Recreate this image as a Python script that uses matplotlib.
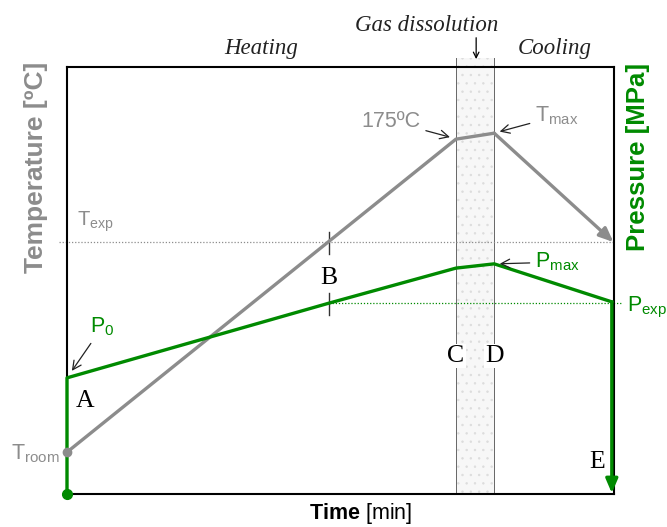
import matplotlib.pyplot as plt
from matplotlib.patches import Rectangle

plt.rcParams['font.family'] = ['Liberation Sans', 'DejaVu Sans']
plt.rcParams['mathtext.fontset'] = 'custom'
plt.rcParams['mathtext.rm'] = 'Liberation Sans'
plt.rcParams['mathtext.it'] = 'Liberation Sans'
plt.rcParams['mathtext.bf'] = 'Liberation Sans:bold'
plt.rcParams['hatch.linewidth'] = 0.5

GRAY = '#8c8c8c'
GREEN = '#008a00'

# schematic data (arbitrary units, 0-100)
t_temp = [0, 71.1, 78.1, 99.9]
temp = [9.8, 83.1, 84.5, 59.0]
t_pres = [0, 0, 47.9, 71.1, 78.1, 99.6, 99.6]
pres = [0, 27.2, 44.7, 52.9, 53.9, 45.0, 0.2]
T_exp = 59.0
P_exp = 44.7
t_B = 47.9
t_C, t_D = 71.1, 78.1

fig = plt.figure(figsize=(6.67, 5.27), dpi=100)
ax = fig.add_axes([67/667, 33/527, 547/667, 427/527])
ax.set_xlim(0, 100)
ax.set_ylim(0, 100)
ax.set_xticks([])
ax.set_yticks([])
for s in ax.spines.values():
    s.set_linewidth(1.5)
    s.set_color('black')

# gas dissolution band
ax.add_patch(Rectangle((t_C, 0), t_D - t_C, 102.1, facecolor='#f7f7f7',
                       edgecolor='#dcdcdc', hatch='..', lw=0, clip_on=False, zorder=0))
for tx in (t_C, t_D):
    ax.plot([tx, tx], [0, 102.1], color='#666666', lw=0.7, clip_on=False, zorder=1)

# reference levels
ax.plot([-1.5, 100], [T_exp, T_exp], color=GRAY, lw=0.9, ls=(0, (1, 1.5)), clip_on=False)
ax.plot([t_B, 101.3], [P_exp, P_exp], color=GREEN, lw=0.9, ls=(0, (1, 1.5)), clip_on=False)
ax.plot([t_B, t_B], [56.2, 61.4], color='#333333', lw=1)
ax.plot([t_B, t_B], [41.9, 47.0], color='#333333', lw=1)

# temperature
ax.plot(t_temp[:-1], temp[:-1], color=GRAY, lw=2.4, solid_capstyle='round', zorder=3)
ax.annotate('', xy=(t_temp[-1], temp[-1]), xytext=(t_temp[-2], temp[-2]),
            arrowprops=dict(arrowstyle='-|>,head_length=0.7,head_width=0.3', color=GRAY,
                            lw=2.4, shrinkA=0, shrinkB=0, mutation_scale=12),
            annotation_clip=False, zorder=3)
ax.plot([0], [temp[0]], 'o', color=GRAY, ms=6, clip_on=False, zorder=4)

# pressure
ax.plot(t_pres[:-1], pres[:-1], color=GREEN, lw=2.4, clip_on=False, zorder=3)
ax.annotate('', xy=(t_pres[-1], pres[-1]), xytext=(t_pres[-2], pres[-2]),
            arrowprops=dict(arrowstyle='-|>,head_length=0.7,head_width=0.3', color=GREEN,
                            lw=2.4, shrinkA=0, shrinkB=0, mutation_scale=12),
            annotation_clip=False, zorder=3)
ax.plot([0], [0], 'o', color=GREEN, ms=7, clip_on=False, zorder=4)

# phase labels
serif = dict(family=['Liberation Serif', 'DejaVu Serif'], style='italic', fontsize=16.5,
             color='#222222')
ax.text(35.5, 104.4, 'Heating', ha='center', va='center', **serif)
ax.text(65.8, 109.8, 'Gas dissolution', ha='center', va='center', **serif)
ax.text(89.2, 104.4, 'Cooling', ha='center', va='center', **serif)
ax.annotate('', xy=(74.8, 101.2), xytext=(74.8, 107.5),
            arrowprops=dict(arrowstyle='->', color='black', lw=0.9), annotation_clip=False)

# point labels
letter = dict(family=['Liberation Serif', 'DejaVu Serif'], fontsize=18.5, color='black',
              ha='center', va='center')
ax.text(3.3, 21.8, 'A', **letter)
ax.text(t_B, 50.7, 'B', **letter)
box = dict(facecolor='white', edgecolor='none', pad=1)
ax.text(t_C, 32.3, 'C', bbox=box, **letter)
ax.text(t_D, 32.3, 'D', bbox=box, **letter)
ax.text(97.0, 7.5, 'E', **letter)

# value labels with arrows
fs = 15.5
arr = dict(arrowstyle='->', color='#222222', lw=0.9)
ax.annotate('175ºC', xy=(70.5, 83.4), xytext=(53.8, 87.3), color=GRAY, fontsize=fs,
            ha='left', va='center', arrowprops=arr)
ax.annotate(r'T$_{\mathrm{max}}$', xy=(78.6, 84.7), xytext=(85.6, 88.5), color=GRAY,
            fontsize=fs, ha='left', va='center', arrowprops=arr)
ax.annotate(r'P$_{\mathrm{max}}$', xy=(78.6, 53.9), xytext=(85.6, 54.3), color=GREEN,
            fontsize=fs, ha='left', va='center', arrowprops=arr)
ax.annotate(r'P$_{0}$', xy=(0.6, 28.3), xytext=(4.2, 39.1), color=GREEN,
            fontsize=fs, ha='left', va='center', arrowprops=arr)
ax.text(1.8, 60.8, r'T$_{\mathrm{exp}}$', color=GRAY, fontsize=14.5, ha='left', va='bottom')
ax.text(102.3, 43.6, r'P$_{\mathrm{exp}}$', color=GREEN, fontsize=fs, ha='left', va='center',
        clip_on=False)
ax.text(-1.3, 9.4, r'T$_{\mathrm{room}}$', color=GRAY, fontsize=fs, ha='right', va='center')

# axis titles
fig.text(36/667, 1 - 167/527, 'Temperature [ºC]', color=GRAY, fontsize=19,
         fontweight='bold', rotation=90, ha='center', va='center')
fig.text(638/667, 1 - 157/527, 'Pressure [MPa]', color=GREEN, fontsize=18.5,
         fontweight='bold', rotation=90, ha='center', va='center')
fig.text(361/667, 1 - 514/527, r'$\mathbf{Time}$ [min]', fontsize=15.5, ha='center',
         va='center')

fig.savefig('out.png', dpi=100)
